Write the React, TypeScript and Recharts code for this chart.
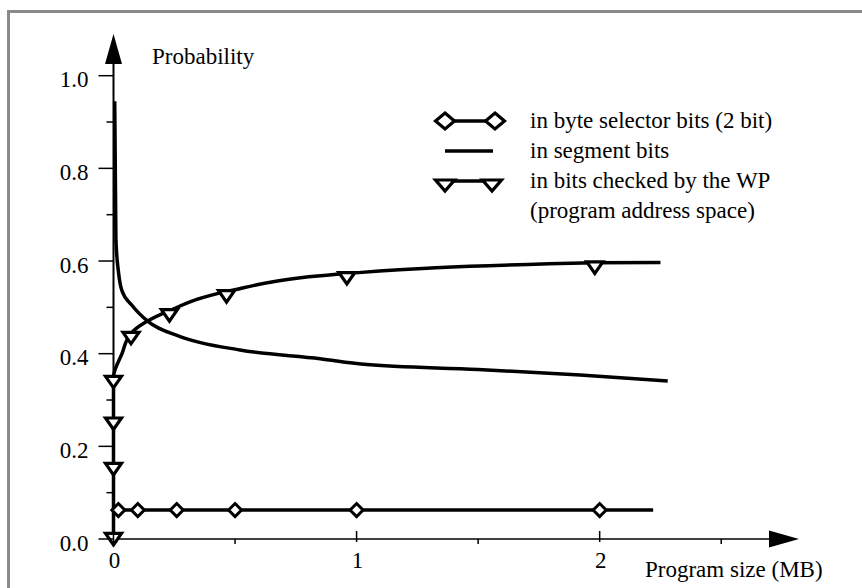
import { Legend, Line, LineChart, ReferenceLine, XAxis, YAxis } from "recharts";

const FONT = '"Liberation Serif", "Times New Roman", serif';

// program size (MB) and probability readings for each curve
const byteSelSize = [0, 0.02, 0.1, 0.26, 0.5, 1.0, 2.0, 2.22];
const byteSelProb = [0.0625, 0.0625, 0.0625, 0.0625, 0.0625, 0.0625, 0.0625, 0.0625];
const byteSelMarked = [false, true, true, true, true, true, true, false];

const segmentSize = [0.005, 0.01, 0.021, 0.034, 0.075, 0.143, 0.274, 0.52, 0.85, 1.03, 1.5, 1.92, 2.28];
const segmentProb = [0.945, 0.645, 0.574, 0.537, 0.505, 0.469, 0.437, 0.408, 0.389, 0.377, 0.366, 0.354, 0.341];

const wpSize = [0, 0, 0, 0, 0, 0.035, 0.072, 0.23, 0.465, 0.96, 1.98, 2.25];
const wpProb = [0, 0.01, 0.161, 0.259, 0.349, 0.4, 0.444, 0.493, 0.534, 0.573, 0.596, 0.597];
const wpMarked = [false, true, true, true, true, false, true, true, true, true, true, false];

const xTicks = [0, 0.5, 1, 1.5, 2, 2.5];
const yTicks = [0, 0.1, 0.2, 0.3, 0.4, 0.5, 0.6, 0.7, 0.8, 0.9, 1.0];

const legendLabels = [
  "in byte selector bits (2 bit)",
  "in segment bits",
  "in bits checked by the WP",
  "(program address space)",
];

const X_MAX = 2.82;
const Y_MAX = 1.09;
const LINE_W = 3.5;

const toPoints = (xs: number[], ys: number[], marks?: boolean[]) =>
  xs.map((x, i) => ({ x, y: ys[i], mark: marks ? marks[i] : false }));

const byteSelData = toPoints(byteSelSize, byteSelProb, byteSelMarked);
const segmentData = toPoints(segmentSize, segmentProb);
const wpData = toPoints(wpSize, wpProb, wpMarked);

function DiamondDot(props: any) {
  const { cx, cy, payload, index } = props;
  if (!payload?.mark) return <g key={`dm-${index}`} />;
  const r = 6.5;
  return (
    <polygon
      key={`dm-${index}`}
      points={`${cx},${cy - r} ${cx + r},${cy} ${cx},${cy + r} ${cx - r},${cy}`}
      fill="#fff"
      stroke="#000"
      strokeWidth={3}
    />
  );
}

function TriangleDot(props: any) {
  const { cx, cy, payload, index } = props;
  if (!payload?.mark) return <g key={`tr-${index}`} />;
  return (
    <polygon
      key={`tr-${index}`}
      points={`${cx - 8},${cy - 1} ${cx + 8},${cy - 1} ${cx},${cy + 10.5}`}
      fill="#fff"
      stroke="#000"
      strokeWidth={3.2}
    />
  );
}

function XTick(props: any) {
  const { x, y, payload } = props;
  const v = payload.value as number;
  const major = Number.isInteger(v);
  return (
    <g>
      <line x1={x} x2={x} y1={major ? y - 8 : y} y2={major ? y + 3 : y + 5} stroke="#000" strokeWidth={1.5} />
      {major && (
        <text x={x + 1} y={y + 29} textAnchor="middle" fontFamily={FONT} fontSize={23} fill="#000">
          {v}
        </text>
      )}
    </g>
  );
}

function YTick(props: any) {
  const { x, y, payload } = props;
  const v = payload.value as number;
  const major = Math.round(v * 10) % 2 === 0;
  return (
    <g>
      <line x1={major ? x - 15 : x - 7} x2={x} y1={y} y2={y} stroke="#000" strokeWidth={1.5} />
      {major && (
        <text x={x - 25} y={y + 11.5} textAnchor="end" fontFamily={FONT} fontSize={23} fill="#000">
          {v.toFixed(1)}
        </text>
      )}
    </g>
  );
}

function XArrowAxis(props: any) {
  const { x1, y1, x2 } = props;
  return (
    <g>
      <line x1={x1} y1={y1} x2={x2 - 28} y2={y1} stroke="#000" strokeWidth={1.6} />
      <polygon points={`${x2},${y1} ${x2 - 30},${y1 - 8.5} ${x2 - 30},${y1 + 8.5}`} fill="#000" />
    </g>
  );
}

function YArrowAxis(props: any) {
  const { x1, y1, y2 } = props;
  return (
    <g>
      <line x1={x1} y1={y1} x2={x1} y2={y2 + 28} stroke="#000" strokeWidth={2} />
      <polygon points={`${x1},${y2} ${x1 - 8.5},${y2 + 30} ${x1 + 8.5},${y2 + 30}`} fill="#000" />
    </g>
  );
}

function LegendIcon({ row }: { row: number }) {
  const cy = 15;
  if (row === 0) {
    const dia = (cx: number) =>
      `${cx},${cy - 8} ${cx + 9.5},${cy} ${cx},${cy + 8} ${cx - 9.5},${cy}`;
    return (
      <g>
        <line x1={20} x2={70} y1={cy} y2={cy} stroke="#000" strokeWidth={LINE_W} />
        <polygon points={dia(20)} fill="#fff" stroke="#000" strokeWidth={3.2} />
        <polygon points={dia(70)} fill="#fff" stroke="#000" strokeWidth={3.2} />
      </g>
    );
  }
  if (row === 1) {
    return <line x1={20} x2={68} y1={cy} y2={cy} stroke="#000" strokeWidth={LINE_W} />;
  }
  if (row === 2) {
    const tri = (cx: number) => `${cx - 9.5},${cy - 1} ${cx + 9.5},${cy - 1} ${cx},${cy + 10}`;
    return (
      <g>
        <line x1={20} x2={67} y1={cy} y2={cy} stroke="#000" strokeWidth={LINE_W} />
        <polygon points={tri(20)} fill="#fff" stroke="#000" strokeWidth={3.2} />
        <polygon points={tri(67)} fill="#fff" stroke="#000" strokeWidth={3.2} />
      </g>
    );
  }
  return null;
}

function LegendBox() {
  return (
    <div style={{ fontFamily: FONT, fontSize: 23, color: "#000" }}>
      {legendLabels.map((label, i) => (
        <div key={label} style={{ display: "flex", alignItems: "center", height: 30, whiteSpace: "nowrap" }}>
          <svg width={105} height={30} style={{ flex: "none" }}>
            <LegendIcon row={i} />
          </svg>
          <span>{label}</span>
        </div>
      ))}
    </div>
  );
}

export default function App() {
  return (
    <div
      style={{
        position: "absolute",
        left: 0,
        top: 0,
        width: 862,
        height: 588,
        overflow: "hidden",
        background: "#fff",
      }}
    >
      <div
        style={{
          position: "absolute",
          left: 7,
          top: 10,
          width: 900,
          height: 700,
          border: "3px solid #8a8a8a",
        }}
      />
      <div style={{ position: "absolute", left: 0, top: 0 }}>
        <LineChart width={862} height={588} margin={{ top: 34, right: 63, bottom: 9, left: 53.5 }}>
          <XAxis
            type="number"
            dataKey="x"
            domain={[0, X_MAX]}
            ticks={xTicks}
            interval={0}
            axisLine={false}
            tickLine={false}
            tickSize={0}
            tickMargin={0}
            height={40}
            tick={XTick}
            label={{
              content: ({ viewBox }: any) => (
                <text x={viewBox.x + 531.5} y={viewBox.y + 38} fontFamily={FONT} fontSize={23} fill="#000">
                  Program size (MB)
                </text>
              ),
            }}
          />
          <YAxis
            type="number"
            domain={[0, Y_MAX]}
            ticks={yTicks}
            interval={0}
            axisLine={false}
            tickLine={false}
            tickSize={0}
            tickMargin={0}
            width={60}
            tick={YTick}
            label={{
              content: ({ viewBox }: any) => (
                <text x={viewBox.x + viewBox.width + 38.5} y={viewBox.y + 30} fontFamily={FONT} fontSize={23} fill="#000">
                  Probability
                </text>
              ),
            }}
          />
          <ReferenceLine segment={[{ x: 0, y: 0 }, { x: X_MAX, y: 0 }]} shape={XArrowAxis} ifOverflow="visible" />
          <ReferenceLine segment={[{ x: 0, y: 0 }, { x: 0, y: Y_MAX }]} shape={YArrowAxis} ifOverflow="visible" />
          <Legend
            layout="vertical"
            align="center"
            verticalAlign="middle"
            content={() => <LegendBox />}
            wrapperStyle={{ left: 425, top: 106, width: "auto", height: "auto" }}
          />
          <Line
            data={segmentData}
            dataKey="y"
            type="monotoneX"
            stroke="#000"
            strokeWidth={LINE_W}
            dot={false}
            activeDot={false}
            isAnimationActive={false}
          />
          <Line
            data={byteSelData}
            dataKey="y"
            type="linear"
            stroke="#000"
            strokeWidth={LINE_W}
            dot={DiamondDot}
            activeDot={false}
            isAnimationActive={false}
          />
          <Line
            data={wpData}
            dataKey="y"
            type="monotoneY"
            stroke="#000"
            strokeWidth={LINE_W}
            dot={TriangleDot}
            activeDot={false}
            isAnimationActive={false}
          />
        </LineChart>
      </div>
    </div>
  );
}
